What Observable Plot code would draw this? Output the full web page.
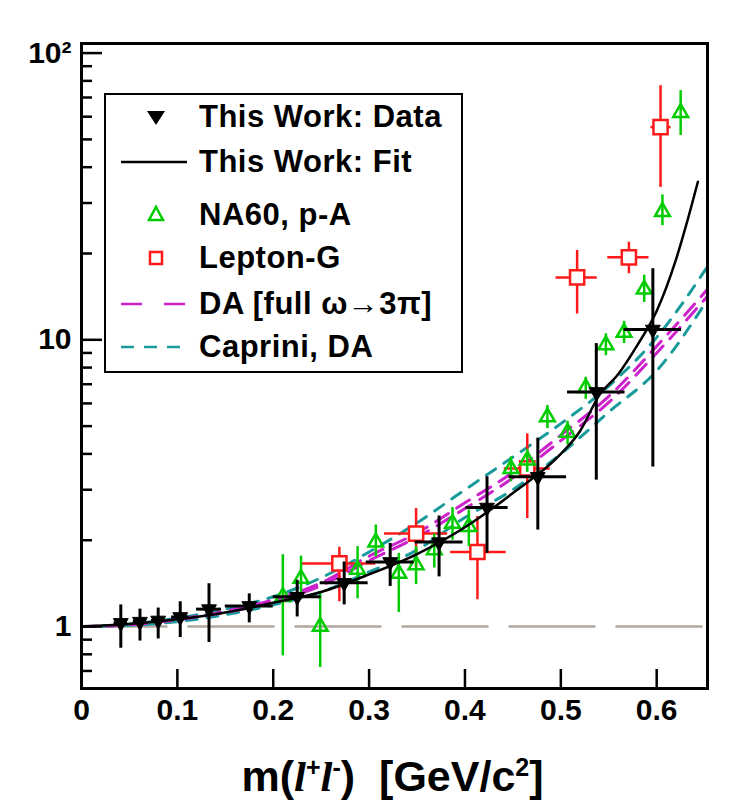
<!DOCTYPE html>
<html><head><meta charset="utf-8">
<script src="https://cdn.jsdelivr.net/npm/d3@7"></script>
<script src="https://cdn.jsdelivr.net/npm/@observablehq/plot@0.6"></script>
<style>
body{margin:0;background:#fff;font-family:"Liberation Sans",Arial,sans-serif;}
#wrap{position:relative;width:733px;height:810px;overflow:hidden;}
#legend{position:absolute;left:104px;top:93px;width:359px;height:280px;border:2px solid #000;background:#fff;box-sizing:border-box;}
.row{position:absolute;left:0;height:40px;}
.row svg{position:absolute;left:12px;top:0;}
.row span{position:absolute;left:93px;font-weight:bold;font-size:31px;letter-spacing:0.5px;white-space:nowrap;line-height:40px;top:0;}
#xtitle{position:absolute;left:0;width:733px;top:752px;text-align:center;font-weight:bold;font-size:43px;padding-left:52px;box-sizing:border-box;}
</style></head>
<body><div id="wrap"></div>
<script>
// This Work: data
const twX   = [0.041,0.061,0.080,0.103,0.133,0.175,0.225,0.274,0.322,0.373,0.423,0.476,0.537,0.596];
const twY   = [1.03,1.04,1.05,1.08,1.15,1.18,1.27,1.42,1.68,1.97,2.60,3.33,6.58,10.86];
const twYlo = [0.84,0.89,0.905,0.915,0.88,1.03,1.08,1.19,1.38,1.49,1.80,2.17,3.24,3.6];
const twYhi = [1.19,1.15,1.16,1.22,1.41,1.30,1.45,1.68,1.95,2.43,3.33,4.54,9.7,17.7];
const twXerr= [0.007,0.007,0.007,0.009,0.013,0.025,0.025,0.025,0.025,0.025,0.022,0.03,0.03,0.03];
// This Work: fit
const fitX = [0,0.05,0.1,0.15,0.2,0.25,0.3,0.35,0.4,0.45,0.5,0.52,0.54,0.56,0.58,0.6,0.62,0.632,0.643];
const fitY = [1,1.02,1.06,1.12,1.21,1.32,1.52,1.79,2.22,2.92,4.0,4.8,6.4,7.6,9.6,12.6,19,26,35.6];
// NA60, p-A
const naX  = [0.210,0.229,0.249,0.288,0.307,0.331,0.349,0.368,0.387,0.404,0.448,0.465,0.486,0.507,0.526,0.547,0.566,0.587,0.606,0.625];
const naY  = [1.27,1.47,1.00,1.58,1.97,1.53,1.64,1.85,2.29,2.23,3.55,3.8,5.38,4.75,6.8,9.6,10.6,15.0,28,62];
const naLo = [0.79,1.24,0.72,1.25,1.75,1.12,1.4,1.6,2.0,1.9,3.2,3.45,4.9,4.3,6.2,8.8,9.7,13.5,25,51.6];
const naHi = [1.78,1.76,1.30,1.90,2.26,1.80,1.9,2.1,2.6,2.55,3.9,4.15,5.9,5.2,7.4,10.5,11.6,16.8,32,74];
// Lepton-G
const lgX   = [0.269,0.349,0.413,0.465,0.517,0.571,0.604];
const lgY   = [1.66,2.11,1.82,3.56,16.5,19.4,55.2];
const lgLo  = [1.22,1.60,1.24,2.38,12.3,17.0,34];
const lgHi  = [1.89,2.58,2.42,4.7,20.5,21.9,77];
const lgXlo = [0.230,0.316,0.385,0.441,0.495,0.549,0.594];
const lgXhi = [0.307,0.382,0.443,0.489,0.538,0.592,0.615];
// Theory bands
const thX    = [0,0.05,0.1,0.15,0.2,0.25,0.3,0.35,0.4,0.45,0.5,0.55,0.6,0.653];
const tealUp = [1,1.02,1.07,1.15,1.27,1.48,1.82,2.3,3.0,3.9,5.1,6.9,10.2,18];
const tealLo = [1,1.01,1.04,1.1,1.19,1.32,1.55,1.85,2.4,3.0,4.0,5.6,7.8,13.8];
const magUp  = [1,1.015,1.06,1.13,1.24,1.42,1.76,2.12,2.7,3.45,4.65,6.35,9.5,15];
const magLo  = [1,1.015,1.055,1.12,1.22,1.39,1.70,2.05,2.58,3.3,4.45,6.05,9.0,14.2];
// reference line
const refX = [0,0.653];
const refY = [1,1];
// ticks
const xTicks = [0,0.1,0.2,0.3,0.4,0.5,0.6];
const xTickLabels = ["0","0.1","0.2","0.3","0.4","0.5","0.6"];
const yMajor = [1,10,100];
const yMajorLabels = ["1","10","10²"];
const yMinor = [0.7,0.8,0.9,2,3,4,5,6,7,8,9,20,30,40,50,60,70,80,90];

const tw = twX.map((x,i)=>({x,y:twY[i],lo:twYlo[i],hi:twYhi[i],x1:x-twXerr[i],x2:x+twXerr[i]}));
const fit = fitX.map((x,i)=>({x,y:fitY[i]}));
const na = naX.map((x,i)=>({x,y:naY[i],lo:naLo[i],hi:naHi[i]}));
const lg = lgX.map((x,i)=>({x,y:lgY[i],lo:lgLo[i],hi:lgHi[i],x1:lgXlo[i],x2:lgXhi[i]}));
const th = thX.map((x,i)=>({x,tu:tealUp[i],tl:tealLo[i],mu:magUp[i],ml:magLo[i]}));
const ref = refX.map((x,i)=>({x,y:refY[i]}));

const W=733,H=810,ML=81,MR=26,MT=43,MB=122;
const fw=W-ML-MR, fh=H-MT-MB;
const green="#00cc00", red="#ff1a1a", mag="#cc22cc", teal="#1a9a9a";

const plot = Plot.plot({
  width:W,height:H,marginLeft:ML,marginRight:MR,marginTop:MT,marginBottom:MB,
  style:{fontFamily:"'Liberation Sans',Arial,sans-serif",background:"#fff",overflow:"visible"},
  x:{domain:[0,0.653],axis:null},
  y:{type:"log",domain:[0.608,108],axis:null},
  marks:[
    Plot.line(ref,{x:"x",y:"y",stroke:"#b0a89e",strokeWidth:2.5,strokeDasharray:"85,22"}),
    Plot.line(th,{x:"x",y:"tu",stroke:teal,strokeWidth:3,strokeDasharray:"11,10",curve:"monotone-x"}),
    Plot.line(th,{x:"x",y:"tl",stroke:teal,strokeWidth:3,strokeDasharray:"11,10",curve:"monotone-x"}),
    Plot.line(th,{x:"x",y:"mu",stroke:mag,strokeWidth:3,strokeDasharray:"15,10",curve:"monotone-x"}),
    Plot.line(th,{x:"x",y:"ml",stroke:mag,strokeWidth:3,strokeDasharray:"15,10",curve:"monotone-x"}),
    // Lepton-G
    Plot.ruleX(lg,{x:"x",y1:"lo",y2:"hi",stroke:red,strokeWidth:2.5}),
    Plot.ruleY(lg,{y:"y",x1:"x1",x2:"x2",stroke:red,strokeWidth:2.5}),
    Plot.dot(lg,{x:"x",y:"y",symbol:"square",r:8,stroke:red,strokeWidth:2.5,fill:"#fff"}),
    // NA60
    Plot.ruleX(na,{x:"x",y1:"lo",y2:"hi",stroke:green,strokeWidth:2.5}),
    Plot.dot(na,{x:"x",y:"y",symbol:"triangle",r:5.5,stroke:green,strokeWidth:2.5,fill:"none"}),
    // fit
    Plot.line(fit,{x:"x",y:"y",stroke:"#000",strokeWidth:2.5,curve:"monotone-x"}),
    // This work data
    Plot.ruleX(tw,{x:"x",y1:"lo",y2:"hi",stroke:"#000",strokeWidth:3}),
    Plot.ruleY(tw,{y:"y",x1:"x1",x2:"x2",stroke:"#000",strokeWidth:3}),
    Plot.dot(tw,{x:"x",y:"y",symbol:"triangle",r:5.5,rotate:180,fill:"#000",stroke:"#000",strokeWidth:1}),
    // tick marks (inward)
    Plot.ruleX(xTicks,{x:d=>d,insetTop:fh-19,stroke:"#000",strokeWidth:2.5}),
    Plot.ruleY(yMajor,{y:d=>d,insetRight:fw-21,stroke:"#000",strokeWidth:2.5}),
    Plot.ruleY(yMinor,{y:d=>d,insetRight:fw-11,stroke:"#000",strokeWidth:2.5}),
    Plot.frame({stroke:"#000",strokeWidth:3}),
    // tick labels
    Plot.text(xTicks,{x:d=>d,frameAnchor:"bottom",dy:31,text:(d,i)=>xTickLabels[i],fontSize:30,fontWeight:"bold",fill:"#000"}),
    Plot.text(yMajor,{y:d=>d,frameAnchor:"left",dx:-10,textAnchor:"end",text:(d,i)=>yMajorLabels[i],fontSize:30,fontWeight:"bold",fill:"#000"})
  ]
});
const wrap=document.getElementById("wrap");
wrap.appendChild(plot);

// legend
const legend=document.createElement("div");legend.id="legend";
const rows=[
 {t:"This Work: Data",y:2,s:'<path d="M29,14 L47,14 L38,28 Z" fill="#000"/>'},
 {t:"This Work: Fit",y:47,s:'<line x1="3" x2="69" y1="20" y2="20" stroke="#000" stroke-width="2.5"/>'},
 {t:"NA60, p-A",y:100,s:'<path d="M38,12 L45,25 L31,25 Z" fill="none" stroke="'+green+'" stroke-width="2.5"/>'},
 {t:"Lepton-G",y:143,s:'<rect x="32" y="14" width="12" height="12" fill="none" stroke="'+red+'" stroke-width="2.5"/>'},
 {t:"DA [full \u03c9\u21923\u03c0]",y:189,s:'<line x1="3" x2="69" y1="20" y2="20" stroke="'+mag+'" stroke-width="2.5" stroke-dasharray="21,22"/>'},
 {t:"Caprini, DA",y:232,s:'<line x1="3" x2="69" y1="20" y2="20" stroke="'+teal+'" stroke-width="2.5" stroke-dasharray="13,10"/>'}
];
for(const r of rows){
  const d=document.createElement("div");d.className="row";d.style.top=r.y+"px";d.style.width="350px";
  d.innerHTML='<svg width="75" height="40">'+r.s+'</svg><span>'+r.t+'</span>';
  legend.appendChild(d);
}
wrap.appendChild(legend);
// x-axis title
const xt=document.createElement("div");xt.id="xtitle";
xt.innerHTML='m(<i style="font-family:\'Liberation Serif\',serif;font-weight:bold">l</i><sup style="font-size:25px">+</sup><i style="font-family:\'Liberation Serif\',serif;font-weight:bold">l</i><sup style="font-size:25px">-</sup>)&nbsp;&nbsp;[GeV/c<sup style="font-size:25px">2</sup>]';
wrap.appendChild(xt);
</script></body></html>
